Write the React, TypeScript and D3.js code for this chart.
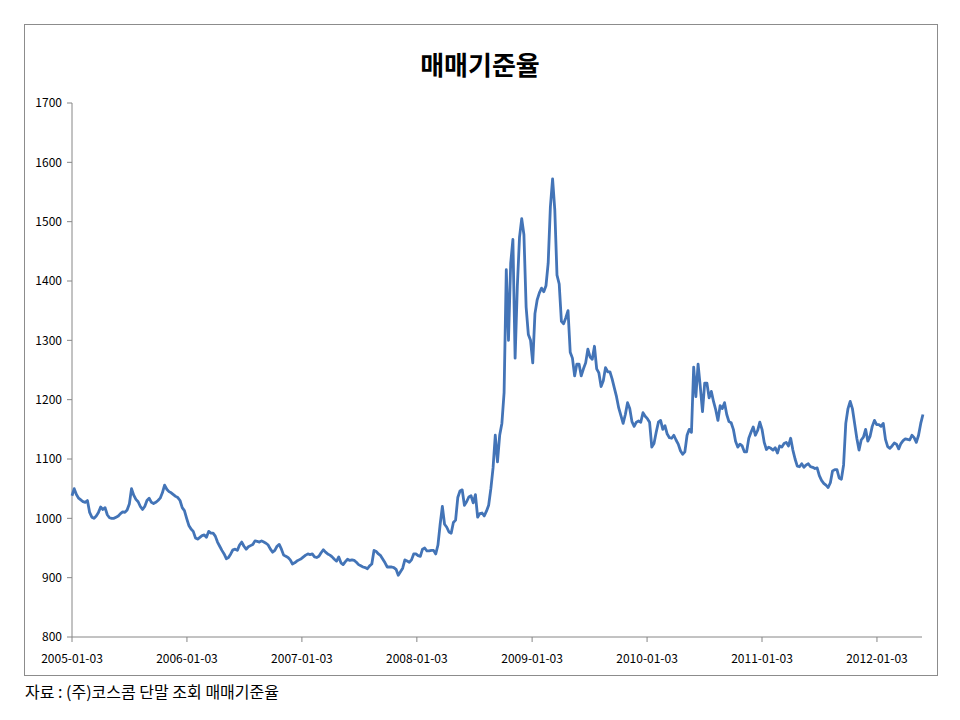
import React from "react";
import * as d3 from "d3";

const TITLE = "매매기준율";
const SOURCE = "자료 : (주)코스콤 단말 조회 매매기준율";
const START_DATE = "2005-01-03";
const Y_TICKS = [800, 900, 1000, 1100, 1200, 1300, 1400, 1500, 1600, 1700];
const X_TICK_LABELS = ["2005-01-03", "2006-01-03", "2007-01-03", "2008-01-03", "2009-01-03", "2010-01-03", "2011-01-03", "2012-01-03"];

// weekly readings of the KRW/USD base rate
const rate2005 = [1038, 1050, 1040, 1034, 1031, 1028, 1027, 1030, 1010, 1002, 1000, 1004, 1010, 1019, 1015, 1018, 1006, 1001, 1000, 1000, 1002, 1004, 1008, 1011, 1010, 1014, 1024, 1050, 1039, 1032, 1028, 1020, 1015, 1020, 1030, 1034, 1027, 1025, 1027, 1030, 1034, 1043, 1056, 1049, 1045, 1043, 1040, 1037, 1035, 1030, 1018, 1013];
const rate2006 = [1000, 988, 982, 978, 967, 965, 968, 971, 972, 968, 978, 975, 975, 970, 960, 953, 946, 940, 932, 934, 940, 947, 948, 946, 955, 960, 953, 948, 952, 954, 956, 962, 961, 960, 962, 960, 958, 955, 948, 943, 946, 953, 956, 948, 938, 936, 934, 930, 923, 925, 928, 930];
const rate2007 = [932, 935, 938, 940, 939, 940, 935, 934, 936, 942, 947, 943, 940, 938, 935, 931, 928, 935, 925, 922, 927, 931, 929, 930, 929, 926, 922, 920, 918, 917, 915, 920, 923, 946, 944, 940, 937, 931, 925, 918, 918, 918, 917, 914, 904, 910, 916, 930, 928, 926, 930, 940];
const rate2008 = [940, 937, 936, 948, 950, 945, 945, 946, 946, 940, 955, 990, 1020, 990, 985, 977, 975, 993, 997, 1035, 1046, 1048, 1022, 1028, 1036, 1038, 1026, 1040, 1002, 1008, 1009, 1004, 1012, 1022, 1050, 1085, 1140, 1095, 1140, 1160, 1212, 1419, 1300, 1430, 1470, 1270, 1390, 1474, 1505, 1478, 1356, 1310];
const rate2009 = [1300, 1262, 1345, 1368, 1380, 1388, 1382, 1392, 1430, 1525, 1572, 1520, 1410, 1395, 1332, 1328, 1338, 1350, 1280, 1270, 1240, 1260, 1260, 1240, 1252, 1262, 1285, 1272, 1268, 1290, 1252, 1245, 1222, 1232, 1254, 1247, 1247, 1235, 1220, 1205, 1186, 1173, 1160, 1175, 1195, 1185, 1163, 1155, 1162, 1164, 1162, 1178, 1172];
const rate2010 = [1168, 1162, 1120, 1126, 1145, 1162, 1165, 1150, 1156, 1142, 1136, 1135, 1140, 1132, 1125, 1114, 1108, 1112, 1140, 1150, 1145, 1255, 1205, 1260, 1222, 1180, 1228, 1228, 1203, 1214, 1197, 1183, 1165, 1190, 1185, 1195, 1175, 1163, 1161, 1150, 1130, 1120, 1125, 1122, 1112, 1112, 1135, 1145, 1154, 1140, 1148, 1162];
const rate2011 = [1150, 1128, 1116, 1120, 1118, 1115, 1119, 1110, 1122, 1120, 1126, 1128, 1122, 1135, 1115, 1100, 1088, 1087, 1092, 1086, 1090, 1092, 1087, 1086, 1084, 1085, 1072, 1064, 1059, 1056, 1052, 1060, 1080, 1082, 1082, 1068, 1066, 1090, 1160, 1185, 1197, 1185, 1160, 1135, 1115, 1132, 1137, 1150, 1130, 1138, 1155, 1165];
const rate2012 = [1158, 1158, 1155, 1160, 1133, 1121, 1118, 1122, 1127, 1125, 1117, 1126, 1131, 1134, 1133, 1132, 1140, 1136, 1128, 1140, 1160, 1175];

const rates = [...rate2005, ...rate2006, ...rate2007, ...rate2008, ...rate2009, ...rate2010, ...rate2011, ...rate2012];

export default function App() {
  const W = 960, H = 720;
  const left = 72, right = 922, top = 103, bottom = 637;
  const parse = d3.timeParse("%Y-%m-%d");
  const start = parse(START_DATE) as Date;
  const data = rates.map((v, i) => ({ date: d3.timeWeek.offset(start, i), value: v }));
  const tickDates = X_TICK_LABELS.map((s) => parse(s) as Date);
  const endDate = d3.timeDay.offset(start, ((right - left) / 115) * 365.25);

  const x = d3.scaleTime().domain([start, endDate]).range([left, right]);
  const y = d3.scaleLinear().domain([800, 1700]).range([bottom, top]);
  const line = d3.line<{ date: Date; value: number }>().x((d) => x(d.date)).y((d) => y(d.value));
  const font = "'Noto Sans CJK KR', 'Noto Sans', sans-serif";
  const axisColor = "#868686";

  return (
    <svg width={W} height={H} style={{ position: "absolute", left: 0, top: 0, background: "#fff" }} fontFamily={font}>
      <rect x={24.5} y={24.5} width={913} height={651} fill="#fff" stroke="#8c8c8c" strokeWidth={1} />
      <text x={480} y={75} textAnchor="middle" fontSize={26} fontWeight="bold" fill="#000">{TITLE}</text>
      <line x1={left} x2={left} y1={top} y2={bottom} stroke={axisColor} />
      {Y_TICKS.map((t) => (
        <g key={t}>
          <line x1={left - 5} x2={left} y1={y(t)} y2={y(t)} stroke={axisColor} />
          <text x={62} y={y(t)} dy="0.35em" textAnchor="end" fontSize={12} fill="#000">{t}</text>
        </g>
      ))}
      <line x1={left} x2={right} y1={bottom} y2={bottom} stroke={axisColor} />
      {tickDates.map((d, i) => (
        <g key={i}>
          <line x1={x(d)} x2={x(d)} y1={bottom} y2={bottom + 5} stroke={axisColor} />
          <text x={x(d)} y={bottom + 26} textAnchor="middle" fontSize={12} fill="#000">{X_TICK_LABELS[i]}</text>
        </g>
      ))}
      <path d={line(data) || ""} fill="none" stroke="#4374B7" strokeWidth={2.8} strokeLinejoin="round" />
      <text x={25} y={698} fontSize={16} fill="#000">{SOURCE}</text>
    </svg>
  );
}
